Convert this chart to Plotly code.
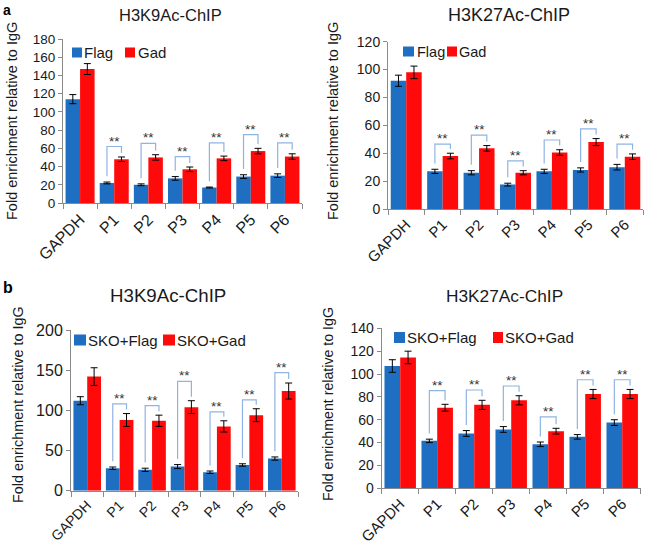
import plotly.graph_objects as go

categories = ["GAPDH", "P1", "P2", "P3", "P4", "P5", "P6"]

# Panel a, H3K9Ac-ChIP
a_k9_flag = [114, 22, 20, 27, 17, 29, 30]
a_k9_flag_err = [5, 1, 1, 2, 0.5, 2, 2]
a_k9_gad = [147, 48, 50, 37, 49, 57, 51]
a_k9_gad_err = [6, 2.5, 3, 2.5, 2.5, 3, 3]
a_k9_bracket = [None, 62, 65.5, 51, 66, 75, 66]

# Panel a, H3K27Ac-ChIP
a_k27_flag = [92, 27, 26, 17.5, 27, 28, 30]
a_k27_flag_err = [4, 1.5, 1.5, 1, 1.5, 1.5, 2]
a_k27_gad = [98, 38, 43.5, 26, 40.5, 48, 37.5]
a_k27_gad_err = [4.5, 2, 2, 1.5, 2, 2.5, 2]
a_k27_bracket = [None, 46.5, 53, 34.5, 49.5, 57.5, 46.5]

# Panel b, H3K9Ac-ChIP
b_k9_flag = [112, 28, 26, 30, 23, 32, 40]
b_k9_flag_err = [5, 1.5, 2, 2.5, 1.5, 1.5, 2]
b_k9_gad = [142, 88, 87, 104, 80, 94, 124]
b_k9_gad_err = [11, 8, 7, 8, 7, 8, 10]
b_k9_bracket = [None, 108, 106, 136, 98, 113, 147]

# Panel b, H3K27Ac-ChIP
b_k27_flag = [107, 41.5, 48, 51.5, 38.5, 45, 57.5]
b_k27_flag_err = [5.5, 1.5, 2.5, 2.5, 2, 2, 2.5]
b_k27_gad = [114.5, 70.5, 73, 77, 50, 82.5, 82.5]
b_k27_gad_err = [5.5, 3, 4, 4, 2.5, 4, 4]
b_k27_bracket = [None, 85.5, 86, 89.5, 62.5, 95, 95]

W, H = 645, 544
FONT = "Arial, Liberation Sans, sans-serif"
BLUE = "#1E6FC2"
RED = "#FF0A0A"
BRACKET = "#8FB4E3"
AXIS = "#8A8A8A"
TXT = "#1A1A1A"
BARGAP = 0.15


def px(x):
    return x / W


def py(y):
    return 1 - y / H


panels = [
    dict(title="H3K9Ac-ChIP", tsize=16.5, tpos=(170, 15),
         flag=a_k9_flag, flag_err=a_k9_flag_err, gad=a_k9_gad, gad_err=a_k9_gad_err,
         bracket=a_k9_bracket, names=("Flag", "Gad"),
         xdom=(63, 302), ydom=(203, 39), yr=180, dtick=20, tick_size=13.5, xt_size=16,
         ytitle=(12, 121, 14.5),
         leg=dict(y=52.5, size=15, b=(72, 82), bt=84, r=(125, 135), rt=138, h=10)),
    dict(title="H3K27Ac-ChIP", tsize=18, tpos=(509, 15),
         flag=a_k27_flag, flag_err=a_k27_flag_err, gad=a_k27_gad, gad_err=a_k27_gad_err,
         bracket=a_k27_bracket, names=("Flag", "Gad"),
         xdom=(388, 643), ydom=(209, 41.7), yr=120, dtick=20, tick_size=14, xt_size=15,
         ytitle=(333, 121, 14.5),
         leg=dict(y=51.5, size=14.5, b=(403, 414), bt=417, r=(447, 457), rt=459, h=10)),
    dict(title="H3K9Ac-ChIP", tsize=18.7, tpos=(168, 295),
         flag=b_k9_flag, flag_err=b_k9_flag_err, gad=b_k9_gad, gad_err=b_k9_gad_err,
         bracket=b_k9_bracket, names=("SKO+Flag", "SKO+Gad"),
         xdom=(71, 298), ydom=(490.7, 330), yr=200, dtick=50, tick_size=16, xt_size=14,
         ytitle=(18, 405, 14.4),
         leg=dict(y=340, size=15, b=(74, 86), bt=88, r=(163, 175), rt=177, h=11)),
    dict(title="H3K27Ac-ChIP", tsize=17.3, tpos=(505, 296),
         flag=b_k27_flag, flag_err=b_k27_flag_err, gad=b_k27_gad, gad_err=b_k27_gad_err,
         bracket=b_k27_bracket, names=("SKO+Flag", "SKO+Gad"),
         xdom=(381.7, 640.7), ydom=(488.3, 328.3), yr=140, dtick=20, tick_size=14, xt_size=15,
         ytitle=(328, 404, 14.2),
         leg=dict(y=337.5, size=15, b=(394, 405), bt=407, r=(493, 503), rt=505, h=11)),
]

fig = go.Figure()
annotations = []
shapes = []
idx = list(range(len(categories)))
off = (1 - BARGAP) / 4

for k, p in enumerate(panels):
    sfx = "" if k == 0 else str(k + 1)
    xa, ya = "x" + sfx, "y" + sfx
    fig.add_trace(go.Bar(
        x=idx, y=p["flag"], name=p["names"][0], marker=dict(color=BLUE, line=dict(width=0)),
        error_y=dict(type="data", array=p["flag_err"], color="black", thickness=1, width=3.5),
        xaxis=xa, yaxis=ya, showlegend=False))
    fig.add_trace(go.Bar(
        x=idx, y=p["gad"], name=p["names"][1], marker=dict(color=RED, line=dict(width=0)),
        error_y=dict(type="data", array=p["gad_err"], color="black", thickness=1, width=3.5),
        xaxis=xa, yaxis=ya, showlegend=False))

    # significance brackets
    bx, by = [], []
    for i, top in enumerate(p["bracket"]):
        if top is None:
            continue
        lb = p["flag"][i] + p["flag_err"][i] + 0.035 * p["yr"]
        rb = p["gad"][i] + p["gad_err"][i] + 0.025 * p["yr"]
        bx += [i - off, i - off, i + off, i + off, None]
        by += [lb, top, top, rb, None]
        annotations.append(dict(x=i, y=top, xref=xa, yref=ya, text="**", showarrow=False,
                                yanchor="bottom", yshift=-4,
                                font=dict(family=FONT, size=13.5, color="#333")))
    fig.add_trace(go.Scatter(x=bx, y=by, mode="lines", line=dict(color=BRACKET, width=1.2),
                             xaxis=xa, yaxis=ya, showlegend=False, hoverinfo="skip"))

    x0, x1 = p["xdom"]
    yb, yt = p["ydom"]
    fig.update_layout(**{
        "xaxis" + sfx: dict(
            domain=[px(x0), px(x1)], range=[-0.5, 6.5], anchor=ya, automargin=False,
            tickmode="array", tickvals=idx, ticktext=categories, ticks="", tickangle=-45,
            tickfont=dict(family=FONT, size=p["xt_size"], color=TXT),
            showline=True, linecolor=AXIS, linewidth=1, showgrid=False, zeroline=False,
            minor=dict(tickmode="linear", tick0=-0.5, dtick=1, ticks="outside",
                       ticklen=5, tickcolor=AXIS, tickwidth=1, showgrid=False),
            fixedrange=True),
        "yaxis" + sfx: dict(
            domain=[py(yb), py(yt)], range=[0, p["yr"]], dtick=p["dtick"], anchor=xa,
            automargin=False,
            ticks="outside", ticklen=4, tickcolor=AXIS,
            tickfont=dict(family=FONT, size=p["tick_size"], color=TXT),
            showline=True, linecolor=AXIS, linewidth=1, showgrid=False, zeroline=False,
            fixedrange=True),
    })

    # panel title
    tx, ty = p["tpos"]
    annotations.append(dict(x=px(tx), y=py(ty), xref="paper", yref="paper", text=p["title"],
                            showarrow=False, xanchor="center", yanchor="middle",
                            font=dict(family=FONT, size=p["tsize"], color=TXT)))
    # y title
    yx, yy, ys = p["ytitle"]
    annotations.append(dict(x=px(yx), y=py(yy), xref="paper", yref="paper",
                            text="Fold enrichment relative to IgG", textangle=-90,
                            showarrow=False, xanchor="center", yanchor="middle",
                            font=dict(family=FONT, size=ys, color=TXT)))
    # legend
    lg = p["leg"]
    for (sx0, sx1), tx0, col, name in [(lg["b"], lg["bt"], BLUE, p["names"][0]),
                                       (lg["r"], lg["rt"], RED, p["names"][1])]:
        shapes.append(dict(type="rect", xref="paper", yref="paper",
                           x0=px(sx0), x1=px(sx1), y0=py(lg["y"] + lg["h"] / 2),
                           y1=py(lg["y"] - lg["h"] / 2), fillcolor=col, line=dict(width=0)))
        annotations.append(dict(x=px(tx0), y=py(lg["y"]), xref="paper", yref="paper",
                                text=name, showarrow=False, xanchor="left", yanchor="middle",
                                xshift=-2,
                                font=dict(family=FONT, size=lg["size"], color=TXT)))

annotations.append(dict(x=px(1), y=py(0), xref="paper", yref="paper", text="<b>a</b>",
                        showarrow=False, xanchor="left", yanchor="top",
                        font=dict(family=FONT, size=14, color="black")))
annotations.append(dict(x=px(1), y=py(277), xref="paper", yref="paper", text="<b>b</b>",
                        showarrow=False, xanchor="left", yanchor="top",
                        font=dict(family=FONT, size=16, color="black")))

fig.update_layout(
    width=W, height=H, autosize=False,
    margin=dict(l=0, r=0, t=0, b=0, autoexpand=False),
    paper_bgcolor="white", plot_bgcolor="white",
    barmode="group", bargap=BARGAP, bargroupgap=0,
    annotations=annotations, shapes=shapes,
    showlegend=False,
    font=dict(family=FONT, color=TXT),
)

fig.write_html(
    "out.html",
    config={"displayModeBar": False},
    post_script="document.body.style.margin='0';document.body.style.overflow='hidden';",
)
